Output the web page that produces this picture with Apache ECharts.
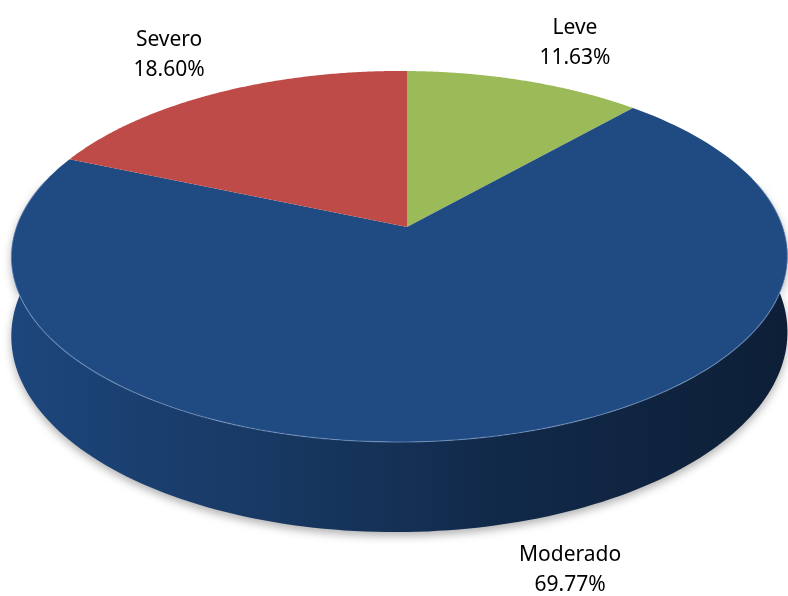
<!DOCTYPE html>
<html>
<head>
<meta charset="utf-8">
<script src="https://cdn.jsdelivr.net/npm/echarts@6/dist/echarts.min.js"></script>
<style>
html,body{margin:0;padding:0;background:#fff;}
#chart{width:788px;height:596px;}
</style>
</head>
<body>
<div id="chart"></div>
<script>
// ---- data ----
const categories = ['Leve', 'Moderado', 'Severo'];
const percents = [11.63, 69.77, 18.60];

// ---- 3D projection of the pie disc ----
const G = { cx: 407, cy: 227, A: 383, B: 180.8, a: 0.159, b: -0.0194, H: 75.7 };
function proj(th, r, drop) {
  const X = r * Math.cos(th), Z = r * Math.sin(th);
  const w = 1 - G.a * Z - G.b * X;
  return [G.cx + G.A * X / w, G.cy + (G.B * Z + drop) / w];
}
function shade(col, f) {
  let r, g, b;
  if (col[0] === '#') {
    const n = parseInt(col.slice(1), 16);
    r = (n >> 16) & 255; g = (n >> 8) & 255; b = n & 255;
  } else {
    const m = col.match(/[\d.]+/g).map(Number);
    r = m[0]; g = m[1]; b = m[2];
  }
  return 'rgb(' + Math.round(r * f) + ',' + Math.round(g * f) + ',' + Math.round(b * f) + ')';
}
const FONT = '21px "Noto Sans"';
const mctx = document.createElement('canvas').getContext('2d');
mctx.font = FONT;
function tw(s) { return mctx.measureText(s).width; }

const total = percents.reduce((s, v) => s + v, 0);
const D2R = Math.PI / 180;
const VIS0 = -15 * D2R, VIS1 = 195 * D2R;

function renderItem(params, api) {
  const i = params.dataIndex;
  let start = 0;
  for (let k = 0; k < i; k++) start += percents[k];
  const t0 = -Math.PI / 2 + 2 * Math.PI * start / total;
  const t1 = t0 + 2 * Math.PI * api.value(0) / total;
  const color = api.visual('color');
  const N = 160;
  const children = [];

  // top face
  const top = [[G.cx, G.cy]];
  for (let n = 0; n <= N; n++) top.push(proj(t0 + (t1 - t0) * n / N, 1, 0));
  children.push({ type: 'polygon', shape: { points: top }, style: { fill: color }, z2: 10 });

  // visible side wall
  const v0 = Math.max(t0, VIS0), v1 = Math.min(t1, VIS1);
  if (v1 > v0) {
    const side = [], rim = [];
    for (let n = 0; n <= N; n++) { const p = proj(v0 + (v1 - v0) * n / N, 1, 0); side.push(p); rim.push(p); }
    for (let n = N; n >= 0; n--) side.push(proj(v0 + (v1 - v0) * n / N, 1, G.H));
    children.push({
      type: 'polygon', shape: { points: side }, z2: 5,
      style: {
        fill: new echarts.graphic.LinearGradient(0, 0, 1, 0, [
          { offset: 0, color: shade(color, 0.95) },
          { offset: 0.37, color: shade(color, 0.74) },
          { offset: 0.63, color: shade(color, 0.56) },
          { offset: 1, color: shade(color, 0.42) }
        ]),
        shadowBlur: 8, shadowColor: 'rgba(0,0,0,0.3)', shadowOffsetY: 4
      }
    });
    children.push({
      type: 'polyline', shape: { points: rim }, z2: 11,
      style: { stroke: 'rgba(150,180,225,0.45)', lineWidth: 1.2, fill: null }
    });
  }

  // label
  const mid = (t0 + t1) / 2;
  const c = Math.cos(mid), s = Math.sin(mid);
  const anchor = proj(mid, 1, s > 0 ? G.H : 0);
  const name = categories[i];
  const pct = (api.value(0) / total * 100).toFixed(2) + '%';
  const boxW = Math.max(tw(name), tw(pct));
  const boxH = 60;
  const cornerX = anchor[0] + 14 * Math.sign(c);
  const cornerY = anchor[1] + (s > 0 ? 16 : 8) * Math.sign(s);
  const lx = cornerX + Math.sign(c) * boxW / 2;
  const ly = cornerY + Math.sign(s) * boxH / 2;
  children.push({
    type: 'text', z2: 20,
    style: {
      text: name + '\n' + pct, x: lx, y: ly,
      align: 'center', verticalAlign: 'middle',
      font: FONT, lineHeight: 30, fill: '#000'
    }
  });
  return { type: 'group', children: children };
}

const chart = echarts.init(document.getElementById('chart'), null, { renderer: 'canvas' });
chart.setOption({
  animation: false,
  backgroundColor: '#fff',
  color: ['#9BBB59', '#1F4A82', '#BE4B48'],
  series: [{
    type: 'custom',
    coordinateSystem: 'none',
    colorBy: 'data',
    renderItem: renderItem,
    data: percents.map((v, i) => ({ name: categories[i], value: v }))
  }]
});
</script>
</body>
</html>
